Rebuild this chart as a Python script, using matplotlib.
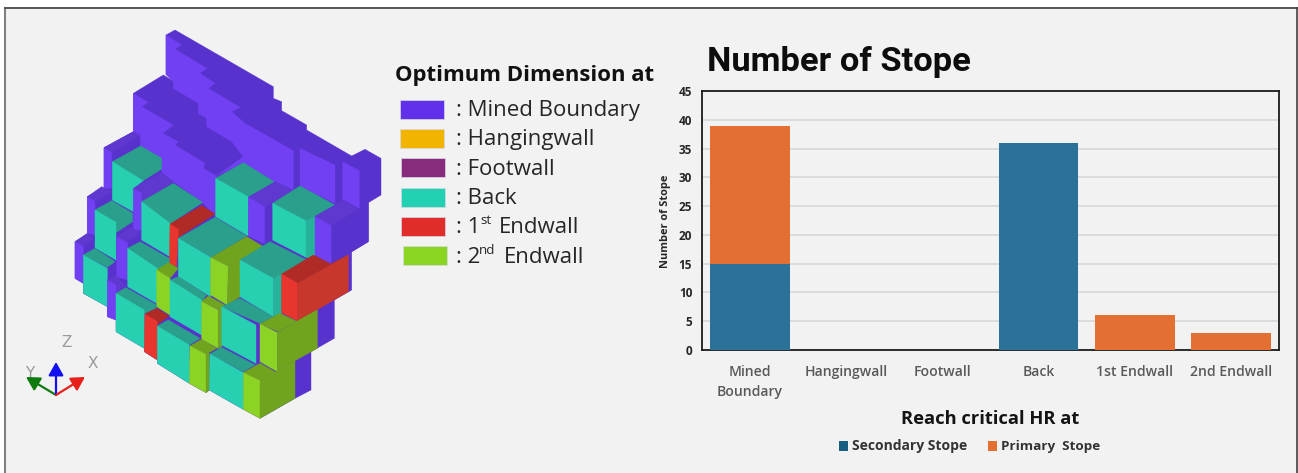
import matplotlib
matplotlib.use("Agg")
import matplotlib.pyplot as plt
from matplotlib.patches import Polygon, Rectangle

W, H = 1298, 473
categories = ["Mined\nBoundary", "Hangingwall", "Footwall", "Back", "1st Endwall", "2nd Endwall"]
secondary_stope = [15, 0, 0, 36, 0, 0]
primary_stope = [24, 0, 0, 0, 6, 3]
y_ticks = [0, 5, 10, 15, 20, 25, 30, 35, 40, 45]
legend_names = [": Mined Boundary", ": Hangingwall", ": Footwall", ": Back", ": 1", ": 2"]
legend_colors = ["#6130ea", "#f3b400", "#872c7c", "#22d0b2", "#e02d2a", "#8ad422"]

BG = "#f2f2f2"
FONT = "Open Sans"
plt.rcParams["font.family"] = [FONT, "DejaVu Sans"]

fig = plt.figure(figsize=(W / 100, H / 100), dpi=100, facecolor=BG)
page = fig.add_axes([0, 0, 1, 1])
page.set_xlim(0, W)
page.set_ylim(H, 0)
page.axis("off")
# white margin and the partial frame around the picture
page.add_patch(Rectangle((0, 0), W, 8, fc="white", ec="none"))
page.add_patch(Rectangle((0, 0), 4, H, fc="white", ec="none"))
page.add_patch(Rectangle((1297, 0), 1, H, fc="white", ec="none"))
page.plot([5, 5], [8, H], color="#808080", lw=1.5)
page.plot([5, 1296.5], [8, 8], color="#555555", lw=1.4)
page.plot([1296.5, 1296.5], [8, H], color="#404040", lw=1.2)

# ---- isometric stope illustration (coordinates in 3x crop pixels) ----
P_D, P_L, P_T = "#5732cc", "#7040f2", "#5f38cf"
T_F, T_T, T_S = "#28d0b2", "#2a9f8b", "#27b39b"
G_F, G_S = "#8bd325", "#70a41e"
R_F, R_T, R_S = "#e8352d", "#b02b26", "#c8372c"

faces = [
 (P_D, [(498,45),(525,30),(820,200),(820,235),(845,245),(845,272),(920,315),(920,330),(1055,408),(1095,388),(1143,415),(1143,525),(1105,548),(1105,665),(1055,695),(1055,810),(1003,840),(1003,955),(933,995),(933,1110),(885,1135),(780,1195),(730,1168),(628,1110),(618,1118),(568,1090),(472,1030),(472,1020),(433,995),(433,985),(348,935),(348,900),(322,890),(322,860),(250,820),(250,790),(225,775),(225,665),(262,640),(262,530),(312,505),(312,383),(400,335),(400,220),(490,165),(520,183),(498,163)]),
 (P_L, [(498,45),(545,75),(525,87),(620,145),(600,160),(645,190),(625,205),(720,262),(695,275),(735,310),(880,392),(880,510),(825,487),(730,428),(650,468),(730,410),(695,365),(620,320),(620,295),(595,280),(595,250),(520,205),(520,185),(498,163)]),
 (P_L, [(400,220),(445,247),(425,260),(520,315),(488,340),(535,365),(525,375),(615,430),(610,445),(650,468),(647,590),(608,547),(520,485),(485,458),(485,415),(422,378),(420,345),(400,335)]),
 (P_L, [(900,385),(1005,435),(1005,550),(900,498)]),
 (P_L, [(1028,425),(1078,452),(1078,565),(1028,538)]),
 (P_L, [(312,383),(335,397),(335,505),(312,505)]),
 (P_T, [(312,383),(400,335),(420,345),(337,397)]),
 (T_T, [(337,425),(422,378),(485,415),(485,447),(430,482)]),
 (T_F, [(337,425),(430,482),(400,505),(400,575),(337,540)]),
 (T_T, [(647,475),(730,428),(825,487),(745,530)]),
 (T_F, [(647,475),(745,530),(745,648),(647,590)]),
 (P_T, [(745,532),(825,485),(880,510),(818,550),(795,560)]),
 (P_L, [(745,532),(795,560),(795,672),(745,648)]),
 (P_D, [(795,560),(820,548),(820,660),(795,672)]),
 (T_T, [(818,550),(900,498),(1005,555),(918,602)]),
 (T_F, [(818,550),(918,602),(918,712),(818,660)]),
 (T_S, [(918,602),(945,588),(945,720),(918,712)]),
 (P_T, [(945,590),(1030,540),(1078,568),(995,618)]),
 (P_L, [(945,590),(995,618),(995,732),(945,705)]),
 (P_D, [(995,618),(1078,568),(1105,548),(1105,665),(995,732)]),
 (P_T, [(400,505),(485,458),(520,485),(425,545)]),
 (P_L, [(400,505),(425,520),(425,630),(400,630)]),
 (T_T, [(425,545),(520,490),(608,547),(510,612)]),
 (T_F, [(425,545),(510,610),(510,710),(425,660)]),
 (R_T, [(510,612),(605,557),(645,582),(535,652)]),
 (R_F, [(510,612),(535,628),(530,740),(508,730)]),
 (T_T, [(535,655),(645,592),(740,648),(635,712)]),
 (T_F, [(535,655),(632,712),(632,830),(535,770)]),
 (G_S, [(635,712),(740,650),(790,680),(685,740)]),
 (G_F, [(632,712),(685,740),(682,855),(632,825)]),
 (G_S, [(685,740),(720,720),(720,830),(682,855)]),
 (T_T, [(720,720),(810,665),(920,720),(845,765),(820,775)]),
 (T_F, [(720,720),(820,775),(820,890),(720,830)]),
 (T_S, [(820,775),(845,762),(845,880),(820,890)]),
 (R_T, [(845,762),(940,705),(992,732),(1045,705),(893,790)]),
 (R_F, [(845,762),(893,790),(893,903),(845,878)]),
 (R_S, [(893,790),(1045,705),(1045,815),(893,903)]),
 (P_T, [(262,530),(305,500),(335,515),(285,545),(285,570)]),
 (P_L, [(262,530),(285,545),(285,645),(262,640)]),
 (T_T, [(285,570),(335,542),(398,580),(398,605),(345,640)]),
 (T_F, [(285,570),(348,607),(348,720),(285,683)]),
 (P_T, [(225,665),(265,642),(285,655),(250,680),(250,705)]),
 (P_L, [(225,665),(250,680),(250,790),(225,775)]),
 (T_T, [(250,705),(285,685),(345,725),(322,742)]),
 (T_F, [(250,705),(322,745),(322,860),(250,820)]),
 (P_T, [(350,650),(395,622),(420,638),(383,665),(383,687)]),
 (P_L, [(350,650),(383,670),(383,780),(350,770)]),
 (T_T, [(383,685),(420,665),(508,715),(508,730),(472,750)]),
 (T_F, [(383,685),(472,745),(470,850),(383,800)]),
 (G_S, [(470,750),(505,728),(535,745),(510,775)]),
 (G_F, [(470,750),(510,775),(510,885),(470,860)]),
 (T_T, [(510,780),(535,770),(620,825),(605,845)]),
 (T_F, [(510,780),(605,840),(605,945),(510,890)]),
 (G_S, [(605,845),(625,828),(675,855),(660,870)]),
 (G_F, [(605,845),(655,870),(655,985),(605,958)]),
 (G_S, [(655,870),(665,865),(665,980),(655,985)]),
 (T_T, [(665,860),(720,835),(820,890),(780,910)]),
 (T_F, [(665,860),(768,915),(768,1030),(665,975)]),
 (G_S, [(780,912),(840,880),(893,905),(952,870),(835,935)]),
 (G_F, [(780,912),(832,938),(832,1055),(780,1025)]),
 (G_S, [(832,938),(952,870),(952,985),(885,1022),(832,1055)]),
 (P_T, [(322,780),(345,765),(380,800),(348,820)]),
 (P_L, [(322,780),(348,795),(348,900),(322,890)]),
 (T_T, [(348,820),(378,803),(470,855),(468,865),(435,880)]),
 (T_F, [(348,820),(433,870),(433,985),(348,935)]),
 (R_T, [(435,882),(470,865),(507,888),(470,915)]),
 (R_F, [(435,882),(472,905),(472,1020),(433,995)]),
 (T_T, [(472,918),(505,900),(600,955),(568,975)]),
 (T_F, [(472,918),(568,975),(568,1090),(472,1030)]),
 (G_S, [(570,978),(605,958),(650,985),(618,1003)]),
 (G_F, [(570,978),(618,1003),(618,1118),(568,1090)]),
 (G_S, [(618,1003),(628,998),(628,1110),(618,1118)]),
 (T_T, [(630,1002),(665,982),(765,1035),(730,1055)]),
 (T_F, [(630,1002),(730,1058),(730,1168),(628,1110)]),
 (G_S, [(730,1058),(780,1030),(830,1058),(780,1082)]),
 (G_F, [(730,1058),(780,1082),(780,1195),(730,1168)]),
 (G_S, [(780,1082),(832,1055),(885,1022),(885,1135),(780,1195)]),
]
for color, pts in faces:
    page.add_patch(Polygon([(x / 3, y / 3 + 20) for x, y in pts], closed=True,
                           fc=color, ec=color, lw=0.3))

# ---- axis triad ----
for label, x, y in [("Z", 67, 342), ("X", 93, 363), ("Y", 30, 373)]:
    page.text(x, y, label, fontsize=11, color="#9a9a9a", ha="center", va="center",
              family="DejaVu Sans")
o = (56, 395)
for tip, c in [((26, 377), "#0f7a10"), ((56, 362), "#1010f0"), ((85, 377), "#e8201a")]:
    page.annotate("", xy=tip, xytext=o,
                  arrowprops=dict(arrowstyle="-|>,head_width=0.45,head_length=0.8", color=c,
                                  lw=1.6, shrinkA=0, shrinkB=0))

# ---- colour legend ----
page.text(395, 75.5, "Optimum Dimension at", fontsize=15.9, fontweight="bold",
          color="#111111", va="center", ha="left")
ys = [109, 138, 167.5, 197, 226, 255.5]
xs = [400, 400, 401, 401, 401, 402.5]
for y, x, name, c in zip(ys, xs, legend_names, legend_colors):
    page.add_patch(Rectangle((x, y - 9.5), 44, 19, fc=c, ec="#d8d8e8", lw=0.5))
    page.text(456, y + 1.5, name, fontsize=16, color="#262626", va="center", ha="left")
for y, sup, sx, ex in [(226, "st", 480, 499), (255.5, "nd", 479, 504)]:
    page.text(sx, y - 5.5, sup, fontsize=9.5, color="#262626", va="center", ha="left")
    page.text(ex, y + 1.5, "Endwall", fontsize=16, color="#262626", va="center", ha="left")

# ---- bar chart ----
L, R, T, B = 702, 1279, 91, 350
ax = fig.add_axes([L / W, 1 - B / H, (R - L) / W, (B - T) / H], facecolor=BG)
x = list(range(len(categories)))
ax.bar(x, secondary_stope, width=0.83, color="#2b7298", label="Secondary Stope", zorder=3)
ax.bar(x, primary_stope, width=0.83, bottom=secondary_stope, color="#e36f33",
       label="Primary  Stope", zorder=3)
ax.set_xlim(-0.5, 5.5)
ax.set_ylim(0, 45)
ax.set_yticks(y_ticks)
ax.set_xticks(x, categories)
ax.grid(axis="y", color="#d9d9d9", lw=1.3, zorder=0)
ax.tick_params(axis="both", length=0)
ax.tick_params(axis="y", pad=7, labelsize=8.5)
ax.tick_params(axis="x", pad=11, labelsize=10.1, colors="#595959")
for t in ax.get_yticklabels():
    t.set_fontweight("bold")
    t.set_color("#262626")
for t in ax.get_xticklabels():
    t.set_fontweight("semibold")
    t.set_linespacing(1.55)
for s in ax.spines.values():
    s.set_color("#1c1c1c")
    s.set_linewidth(1.3)

page.text(707, 62, "Number of Stope", fontsize=24.8, fontweight="bold", color="#0d0d0d",
          va="center", ha="left", family="Roboto")
page.text(665.5, 221, "Number of Stope", fontsize=7.9, fontweight="bold", color="#262626",
          rotation=90, va="center", ha="center")
page.text(990, 419, "Reach critical HR at", fontsize=13.2, fontweight="bold",
          color="#141414", va="center", ha="center")
page.add_patch(Rectangle((839, 441), 9, 10, fc="#1a5f82", ec="none"))
page.text(852, 446, "Secondary Stope", fontsize=10, fontweight="bold", color="#333333",
          va="center", ha="left")
page.add_patch(Rectangle((988, 441), 9, 10, fc="#e36f33", ec="none"))
page.text(1001, 446, "Primary  Stope", fontsize=9.7, fontweight="bold", color="#333333",
          va="center", ha="left")

fig.savefig("out.png", dpi=100, facecolor=BG)
